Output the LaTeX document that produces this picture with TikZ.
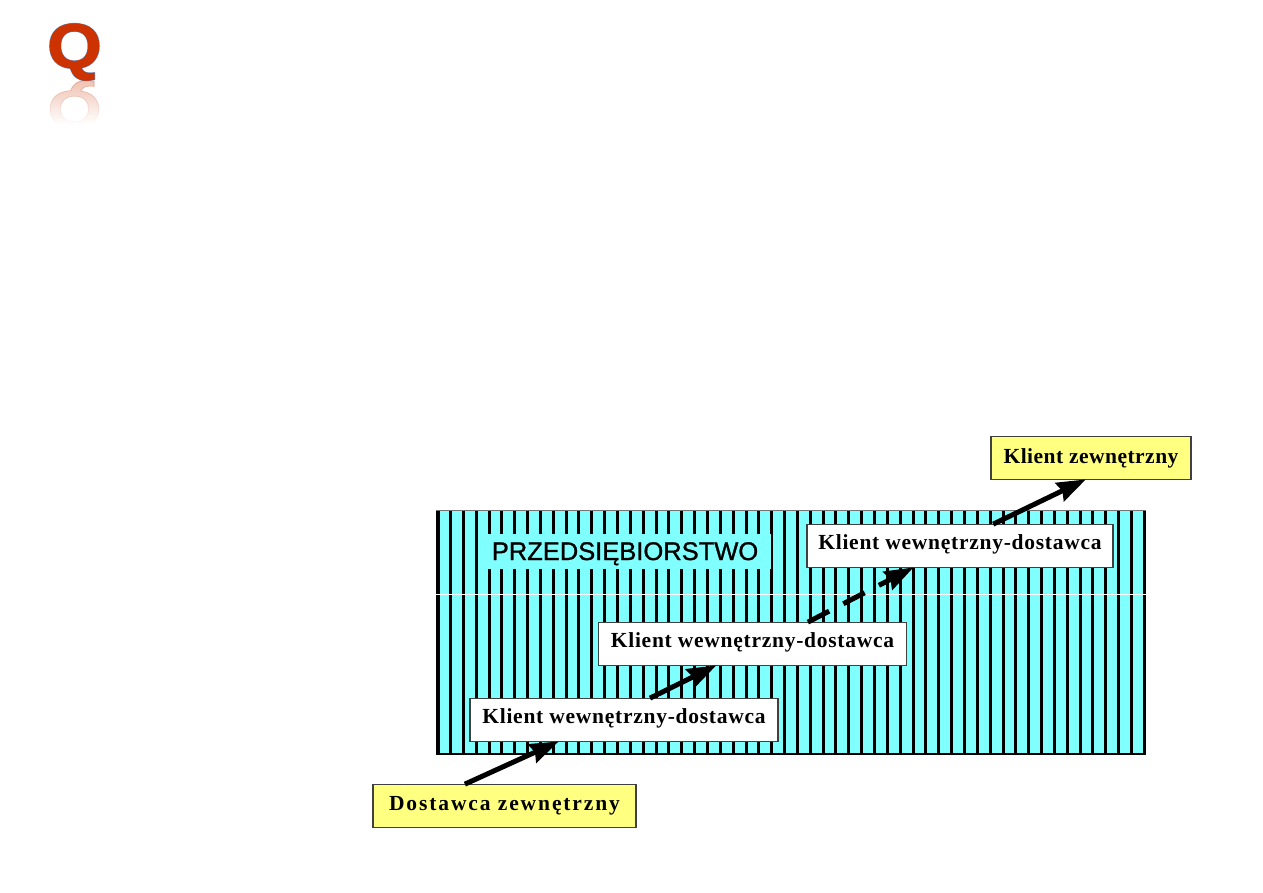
\documentclass[tikz,border=0pt]{standalone}
\usepackage{fontspec}
\setmainfont{Liberation Serif}
\newfontfamily\helv{Liberation Sans}[FakeBold=1.1]
\newfontfamily\logofont{Liberation Sans Bold}[FakeBold=1.5]
\newfontfamily\logoedge{Liberation Sans Bold}[FakeBold=2.8]
\usetikzlibrary{arrows.meta,calc,fadings}
\definecolor{hatchcyan}{HTML}{80FFFF}
\definecolor{boxyellow}{HTML}{FFFF80}
\definecolor{logored}{HTML}{CC3300}
\definecolor{logoblue}{HTML}{5A9BE0}
\tikzset{
  every path/.style={semithick},
  spaced/.style={font=\bfseries\fontsize{21.5}{24}\selectfont\addfontfeature{LetterSpace=#1}},
  flowbox/.style={draw=black!75,line width=1.2pt,inner sep=0pt,minimum height=42.5pt},
  whitebox/.style={flowbox,fill=white,minimum width=308pt,spaced=3.4,text height=15pt,text depth=7.5pt},
  yellowbox/.style={flowbox,fill=boxyellow},
  flow/.style={-{Stealth[length=29pt,width=20pt,inset=3pt]},line width=5pt,shorten >=-1pt},
}
\begin{document}
\begin{tikzpicture}[x=1pt,y=-1pt]
    \useasboundingbox (0,0) rectangle (1263,893);

    % logo and its reflection
    \node[font=\logoedge\fontsize{70}{70}\selectfont,text=logoblue,yscale=0.9,transform shape] (logoedge) at (74.5,52) {Q};
    \node[font=\logofont\fontsize{70}{70}\selectfont,text=logored,yscale=0.9,transform shape] (logo) at (74.5,52) {Q};
    \node[font=\logofont\fontsize{70}{70}\selectfont,text=logored,opacity=0.3,
      yscale=-0.75,transform shape] (logomirror) at (74.5,104) {Q};
    \fill[white,path fading=north] (40,80) rectangle (110,124);
    \fill[white] (40,123) rectangle (110,140);

    % the company block
    \fill[hatchcyan] (437,510) rectangle (1146,754);
    \foreach \k in {0,...,55}
      \draw[line width=3pt] ({floor(437.6+12.85*\k)+0.5},510) -- ({floor(437.6+12.85*\k)+0.5},754);
    \draw[line width=4pt] (438,510) -- (438,754);
    \draw[black!55,line width=1pt] (436,510) -- (1146,510);
    \draw[line width=1.6pt] (436,754) -- (1146,754);
    \draw[white,line width=0.8pt] (436,594.5) -- (1146,594.5);
    \node[fill=hatchcyan,minimum width=292pt,minimum height=35pt,inner sep=0pt,text height=22pt,text depth=5pt,
      font=\helv\fontsize{25.5}{28}\selectfont] (firma) at (625,551.5) {PRZEDSIĘBIORSTWO};

    \node[whitebox] (klientA) at (624,720) {Klient wewnętrzny-dostawca};
    \node[whitebox] (klientB) at (752.5,644) {Klient wewnętrzny-dostawca};
    \node[whitebox,minimum width=306pt] (klientC) at (960,546) {Klient wewnętrzny-dostawca};
    \node[yellowbox,minimum width=263pt,spaced=8.8] (dostawca) at (504.5,806) {Dostawca zewnętrzny};
    \node[yellowbox,minimum width=200pt,spaced=2.2] (klient) at (1091,458) {Klient zewnętrzny};

    \draw[flow] ($(dostawca.north west)!0.35!(dostawca.north east)$)
      -- ($(klientA.south west)!0.286!(klientA.south east)$);
    \draw[flow] ($(klientA.north west)!0.584!(klientA.north east)$)
      -- ($(klientB.south west)!0.38!(klientB.south east)$);
    \draw[flow,dash pattern=on 24pt off 16pt] ($(klientB.north west)!0.679!(klientB.north east)$)
      -- ($(klientC.south west)!0.346!(klientC.south east)$);
    \draw[flow] ($(klientC.north west)!0.608!(klientC.north east)$)
      -- ($(klient.south west)!0.47!(klient.south east)$);
  \end{tikzpicture}
\end{document}
